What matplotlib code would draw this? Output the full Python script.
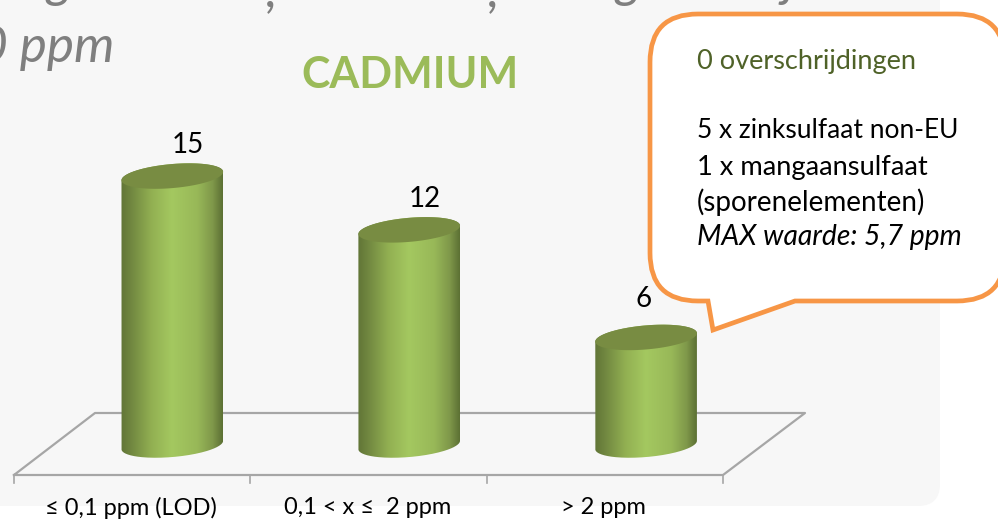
import numpy as np
import matplotlib
matplotlib.use('Agg')
import matplotlib.pyplot as plt
from matplotlib.colors import LinearSegmentedColormap
from matplotlib.patches import FancyBboxPatch, PathPatch, Polygon
from matplotlib.path import Path
from matplotlib.transforms import Affine2D

plt.rcParams['font.family'] = ['Lato', 'DejaVu Sans']

categories = ['≤ 0,1 ppm (LOD)', '0,1 < x ≤  2 ppm', '> 2 ppm']
values = [15, 12, 6]
chart_title = 'CADMIUM'
note_head = '0 overschrijdingen'
note_lines = ['5 x zinksulfaat non-EU', '1 x mangaansulfaat', '(sporenelementen)']
note_italic = 'MAX waarde: 5,7 ppm'

W, H = 998, 521
X0, X_STEP = 172.3, 236.9    # pixel of category 0, pixels per category
Y0, Y_UNIT = 445.0, 17.93    # pixel of value 0, pixels per unit
TICK0, TICK_STEP = 14, 236.3  # front edge of the floor

fig = plt.figure(figsize=(W / 100, H / 100), dpi=100, facecolor='white')
ax = fig.add_axes([0, 0, 1, 1])
ax.axis('off')

# pixel coords, origin top left, for everything that is not data
px = Affine2D().scale(1, -1).translate(0, H)

panel = FancyBboxPatch((-40, -40), 980, 546, boxstyle='round,pad=0,rounding_size=22',
                       fc='#f7f7f7', ec='none', transform=px, zorder=0)
ax.add_patch(panel)

# cut off lines of the slide text above the chart
ax.text(114, 62, '0 ppm', transform=px, ha='right', fontsize=37, style='italic', color='#7f7f7f', zorder=1)
for gx, gy, glyph in [(46, -4, 'g'), (266, 6, ','), (488, 6, ','), (615, -4, 'g'), (783, -4, 'j')]:
    ax.text(gx, gy, glyph, transform=px, fontsize=37, style='italic', color='#7f7f7f', zorder=1)

# floor of the 3d chart
ax.plot([14, 723, 805, 95, 14], [475, 475, 413, 413, 475], transform=px, color='#a6a6a6', lw=1.6, zorder=1)
for i in range(len(categories) + 1):
    tx = TICK0 + i * TICK_STEP
    ax.plot([tx, tx], [475, 483], transform=px, color='#a6a6a6', lw=1.2, zorder=1)

side_cmap = LinearSegmentedColormap.from_list('side', [
    (0, '#617537'), (0.12, '#748b42'), (0.3, '#92b052'), (0.5, '#a4c860'),
    (0.75, '#98b858'), (0.9, '#7f984a'), (1, '#5c7034')])

A, B, TILT = 51.0, 12.0, np.radians(5.0)
T = np.linspace(0, 2 * np.pi, 180, endpoint=False)
ex = (A * np.cos(T) * np.cos(TILT) - B * np.sin(T) * np.sin(TILT)) / X_STEP
ey = (A * np.cos(T) * np.sin(TILT) + B * np.sin(T) * np.cos(TILT)) / Y_UNIT
# start the ellipse at its right most point, so the first half is the upper arc
shift = -ex.argmax()
ex, ey = np.roll(ex, shift), np.roll(ey, shift)
half_w = ex.max()
left_i = ex.argmin()

label_dx = [16, 16, -3]
label_dy = [0, 0, -7]

for i, v in enumerate(values):
    outline = np.r_[np.c_[i + ex[:left_i + 1], v + ey[:left_i + 1]],
                    np.c_[i + ex[left_i:], ey[left_i:]],
                    np.c_[i + ex[:1], ey[:1]]]
    grad = np.linspace(0, 1, 256).reshape(1, -1)
    im = ax.imshow(grad, cmap=side_cmap, aspect='auto', zorder=2,
                   extent=(i - half_w, i + half_w, -1, v + 1))
    ax.set_xlim((0 - X0) / X_STEP, (W - X0) / X_STEP)
    ax.set_ylim((Y0 - H) / Y_UNIT, Y0 / Y_UNIT)
    im.set_clip_path(PathPatch(Path(np.r_[outline, outline[:1]]), transform=ax.transData))
    ax.add_patch(Polygon(np.c_[i + ex, v + ey], fc='#788c42', ec='none', zorder=3))
    ax.text(i + label_dx[i] / X_STEP, v + (18 - label_dy[i]) / Y_UNIT, str(v), ha='center', va='bottom',
            fontsize=20, color='black', zorder=4)
    ax.text(TICK0 + (i + 0.5) * TICK_STEP - 1, 508, categories[i], transform=px,
            ha='center', va='center', fontsize=17, color='black', zorder=4, clip_on=False)

ax.text(410, 75, chart_title, transform=px, ha='center', va='center', fontsize=31,
        fontweight='bold', color='#9bbb59', zorder=4)

# speech bubble
x0, x1, y0, y1, r = 650, 1005, 14, 301, 48
verts = [(x0 + r, y0), (x1 - r, y0), (x1, y0), (x1, y0 + r), (x1, y1 - r), (x1, y1), (x1 - r, y1),
         (795, y1), (713, 330), (708, y1), (x0 + r, y1), (x0, y1), (x0, y1 - r),
         (x0, y0 + r), (x0, y0), (x0 + r, y0), (x0 + r, y0)]
codes = [Path.MOVETO, Path.LINETO, Path.CURVE3, Path.CURVE3, Path.LINETO, Path.CURVE3, Path.CURVE3,
         Path.LINETO, Path.LINETO, Path.LINETO, Path.LINETO, Path.CURVE3, Path.CURVE3,
         Path.LINETO, Path.CURVE3, Path.CURVE3, Path.CLOSEPOLY]
ax.add_patch(PathPatch(Path(verts, codes), fc='white', ec='#f79646', lw=3.4, transform=px, zorder=5,
                       joinstyle='miter'))

ax.text(697, 61, note_head, transform=px, va='center', fontsize=19.5, color='#4f6228', zorder=6)
for y, line, size in zip([130, 167, 202], note_lines, [19, 19.6, 20]):
    ax.text(697, y, line, transform=px, va='center', fontsize=size, color='black', zorder=6)
ax.text(697, 237, note_italic, transform=px, va='center', fontsize=20.3, style='italic', color='black', zorder=6)

fig.savefig('out.png', dpi=100, facecolor='white')
